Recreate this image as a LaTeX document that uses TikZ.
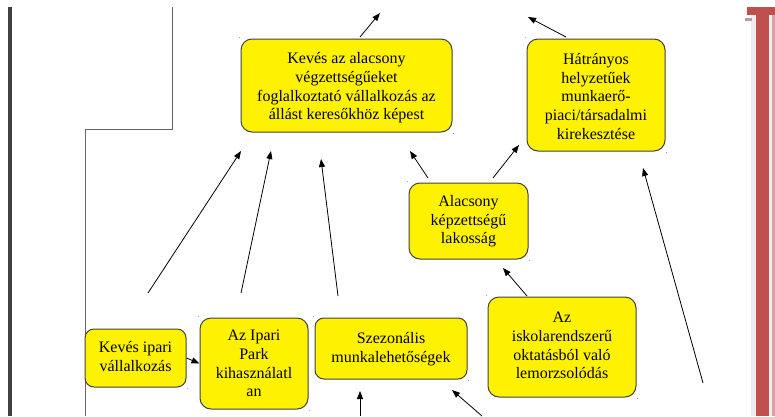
\documentclass[tikz,border=0pt]{standalone}
\usepackage{fontspec}
\setmainfont{Liberation Serif}
\usetikzlibrary{arrows.meta}
\definecolor{boxedge}{HTML}{404040}
\definecolor{officered}{HTML}{C0504D}
\definecolor{bargrey}{HTML}{EDEDED}
\definecolor{tabgrey}{HTML}{B89A9A}
\definecolor{pinkline}{HTML}{D4A5A5}
\newcommand{\boxtext}[2][2pt]{\raisebox{-#1}[\height][\depth]{\begin{tabular}{@{}c@{}}#2\end{tabular}}}
\begin{document}
\begin{tikzpicture}[x=1pt,y=-1pt,
  box/.style={draw=boxedge, line width=1pt, fill=yellow, rounded corners=11pt,
    inner sep=0pt, font=\fontsize{16}{18.7}\selectfont},
  arr/.style={-{Triangle[length=8pt,width=6pt]}, line width=0.8pt, black},
  speck/.style={fill=gray!70, draw=none, circle, minimum size=1.3pt, inner sep=0pt}]
\path[use as bounding box] (0,0) rectangle (775,416);
% page frame lines
\fill[boxedge] (8,7) rectangle (12,416);
\draw[gray!80!black, line width=0.9pt] (172,7) -- (172,129) -- (85,129) -- (85,416);
% right red bar
\fill[bargrey] (751,15) rectangle (775,416);
\fill[officered] (756,7) rectangle (769,416);
\fill[officered] (747,7) rectangle (775,15);
\fill[tabgrey] (745,18) rectangle (752,21);
\fill[pinkline] (772,15) rectangle (775,416);
% boxes
\node[box, minimum width=211pt, minimum height=93pt] (b1) at (346.5,85.5)
  {\boxtext[2.5pt]{Kevés az alacsony\\végzettségűeket\\foglalkoztató vállalkozás az\\állást keresőkhöz képest}};
\node[box, minimum width=138pt, minimum height=112pt] (b2) at (596,95)
  {\boxtext[3pt]{Hátrányos\\helyzetűek\\munkaerő-\\piaci/társadalmi\\kirekesztése}};
\node[box, minimum width=119pt, minimum height=76pt] (b3) at (468.5,221)
  {\boxtext[0.5pt]{Alacsony\\képzettségű\\lakosság}};
\node[box, minimum width=101pt, minimum height=58pt, rounded corners=9pt] (b4) at (135.5,358)
  {\boxtext[0.5pt]{Kevés ipari\\vállalkozás}};
\node[box, minimum width=108pt, minimum height=91pt] (b5) at (254,363.5)
  {\boxtext[1.5pt]{Az Ipari\\Park\\kihasználatl\\an}};
\node[box, minimum width=152pt, minimum height=61pt, rounded corners=9pt] (b6) at (391,348.5)
  {\boxtext[0.5pt]{Szezonális\\munkalehetőségek}};
\node[box, minimum width=148pt, minimum height=100pt] (b7) at (562,347)
  {\boxtext[0pt]{Az\\iskolarendszerű\\oktatásból való\\lemorzsolódás}};
% corner specks
\foreach \b in {b1,b2,b3,b5,b6,b7}{
  \node[speck] at ([shift={(-1,-1)}]\b.north west) {};
  \node[speck] at ([shift={(1,1)}]\b.south east) {};
}
\node[speck] at ([shift={(1,1)}]b4.south east) {};
% arrow end points
\coordinate (a1s) at (360,37);  \coordinate (a1e) at (380,13);
\coordinate (a2s) at (566,37);  \coordinate (a2e) at (528,17);
\coordinate (a3s) at (428,178); \coordinate (a3e) at (410,151);
\coordinate (a4s) at (493,178); \coordinate (a4e) at (519,145);
\coordinate (a5s) at (527,296); \coordinate (a5e) at (503,268);
\coordinate (a6s) at (148,293); \coordinate (a6e) at (241,151);
\coordinate (a7s) at (241,293); \coordinate (a7e) at (271,151);
\coordinate (a8s) at (338,296); \coordinate (a8e) at (321,159);
\coordinate (a9s) at (703,383); \coordinate (a9e) at (643,168);
\coordinate (a11s) at (360,416); \coordinate (a11e) at (360,391);
\coordinate (a12s) at (482,416); \coordinate (a12e) at (452,390);
% arrows
\draw[arr] (a1s) -- (a1e);
\draw[arr] (a2s) -- (a2e);
\draw[arr] (a3s) -- (a3e);
\draw[arr] (a4s) -- (a4e);
\draw[arr] (a5s) -- (a5e);
\draw[arr] (a6s) -- (a6e);
\draw[arr] (a7s) -- (a7e);
\draw[arr] (a8s) -- (a8e);
\draw[arr] (a9s) -- (a9e);
\draw[arr] (b4.east) -- (b5.west);
\draw[arr] (a11s) -- (a11e);
\draw[arr] (a12s) -- (a12e);
\end{tikzpicture}
\end{document}
